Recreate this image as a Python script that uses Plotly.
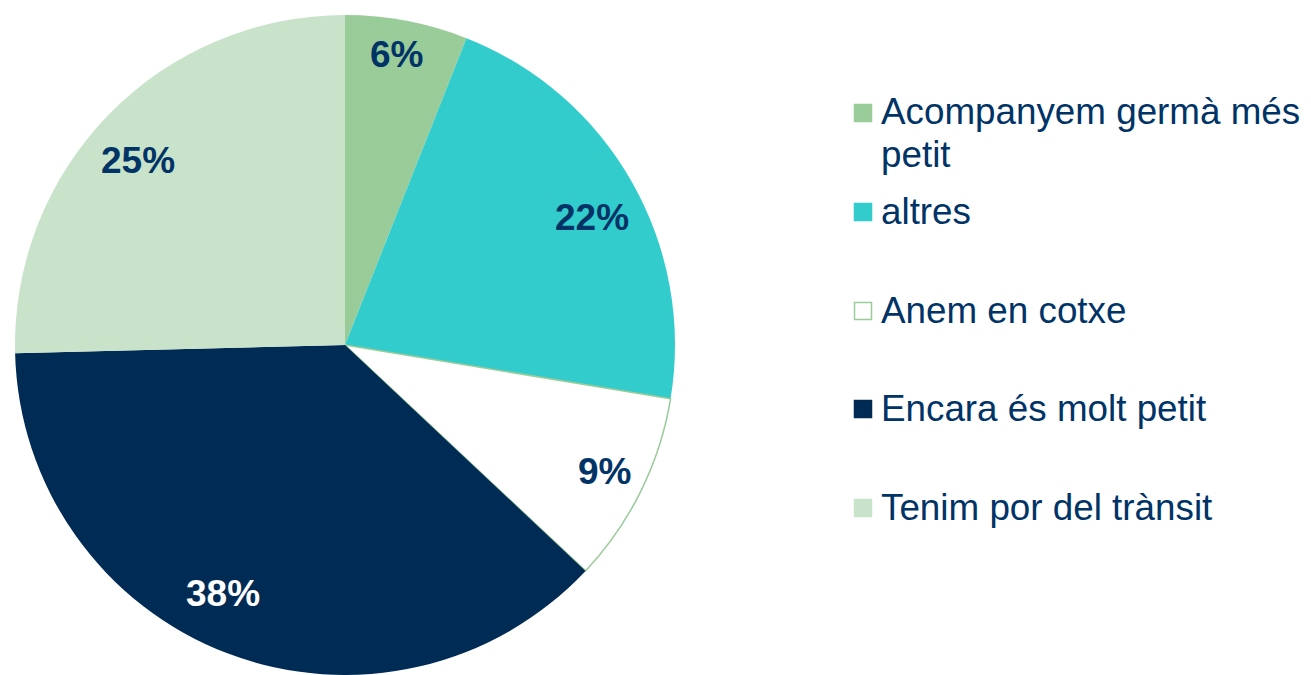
import math
import plotly.graph_objects as go

# reasons for not going to school alone (share of answers, %)
labels = ["Acompanyem germà més<br>petit", "altres", "Anem en cotxe",
          "Encara és molt petit", "Tenim por del trànsit"]
values = [6.0, 21.6, 9.4, 37.6, 25.4]
colors = ["#99CC99", "#33CCCC", "#FFFFFF", "#002B55", "#C9E2CA"]
label_colors = ["#003366", "#003366", "#003366", "#FFFFFF", "#003366"]

# page body has an 8px margin, so the figure is shrunk and shifted by it
OFF = 8
W, H = 1311 - OFF, 675 - OFF
FONT = "Liberation Sans, Arial, sans-serif"
TEXT = "#003366"

# pie geometry in page pixels
cx, cy, R = 345, 345, 330


def px(x):
    return (x - OFF) / W


def py(y):
    return 1 - (y - OFF) / H


fig = go.Figure()
fig.add_trace(go.Pie(
    labels=labels, values=values, sort=False, direction="clockwise", rotation=0,
    marker=dict(colors=colors,
                line=dict(color=["#99CC99", "#33CCCC", "#99CC99", "#002B55", "#C9E2CA"],
                          width=[0, 0, 1.5, 0, 0])),
    textinfo="none", showlegend=False, hoverinfo="label+percent",
    domain=dict(x=[px(cx - R), px(cx + R)], y=[max(0, py(cy + R)), py(cy - R)]),
))

annotations = []
shapes = []

# percentage labels near each slice's mid angle, nudged like the "best fit" placement
nudge = [(-1, -13), (1, 12), (7, 2), (-21, -15), (-5, 12)]
total = sum(values)
start = 0
for v, c, (dx, dy) in zip(values, label_colors, nudge):
    mid = (start + v / 2) / total * 2 * math.pi
    start += v
    r = 0.855 * R
    x = cx + r * math.sin(mid) + dx
    y = cy - r * math.cos(mid) + dy
    annotations.append(dict(
        x=px(x), y=py(y), xref="paper", yref="paper", showarrow=False,
        text="<b>%d%%</b>" % round(v / total * 100),
        font=dict(family=FONT, size=37, color=c),
        xanchor="center", yanchor="middle"))

# hand-made legend
ys = [113, 212, 311, 409, 508]
for lab, col, y in zip(labels, colors, ys):
    border = "#99CC99" if col == "#FFFFFF" else col
    shapes.append(dict(type="rect", xref="paper", yref="paper",
                       x0=px(854.5), x1=px(871.5), y0=py(y - 8.5), y1=py(y + 8.5),
                       fillcolor=col, line=dict(color=border, width=1.5)))
    for i, line in enumerate(lab.split("<br>")):
        annotations.append(dict(
            x=px(879), y=py(y - 1 + i * 42), xref="paper", yref="paper",
            showarrow=False, text=line, xanchor="left", yanchor="middle",
            font=dict(family=FONT, size=36.8, color=TEXT)))

fig.update_layout(
    width=W, height=H, margin=dict(l=0, r=0, t=0, b=0),
    paper_bgcolor="white", plot_bgcolor="white",
    annotations=annotations, shapes=shapes,
)

fig.write_html("out.html")
